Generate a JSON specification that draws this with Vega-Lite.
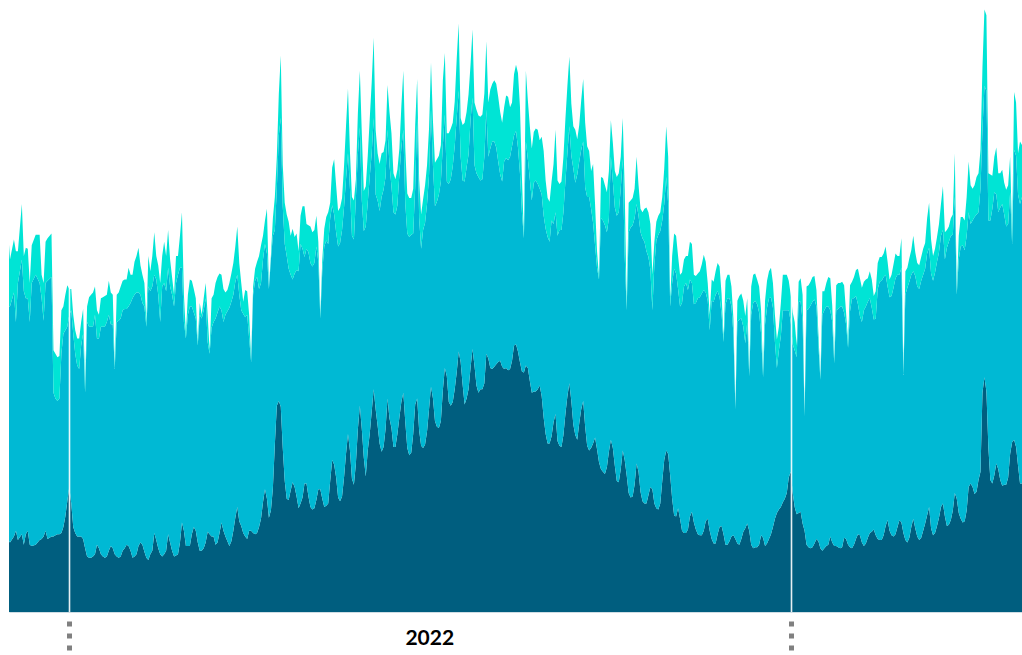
{
  "$schema": "https://vega.github.io/schema/vega-lite/v6.json",
  "width": 1013,
  "height": 612,
  "padding": {"left": 9, "top": 0, "right": 0, "bottom": 43},
  "autosize": {"type": "none"},
  "background": "#ffffff",
  "config": {"view": {"stroke": null}},
  "data": {"values": [
{"date":"2021-12-01","s1":61,"s2":198,"s3":65},
{"date":"2021-12-02","s1":59,"s2":200,"s3":40},
{"date":"2021-12-04","s1":64,"s2":207,"s3":45},
{"date":"2021-12-05","s1":69,"s2":177,"s3":60},
{"date":"2021-12-06","s1":61,"s2":218,"s3":27},
{"date":"2021-12-08","s1":66,"s2":233,"s3":47},
{"date":"2021-12-09","s1":57,"s2":215,"s3":30},
{"date":"2021-12-10","s1":66,"s2":200,"s3":43},
{"date":"2021-12-11","s1":69,"s2":197,"s3":42},
{"date":"2021-12-12","s1":57,"s2":189,"s3":33},
{"date":"2021-12-13","s1":56,"s2":223,"s3":32},
{"date":"2021-12-15","s1":57,"s2":229,"s3":34},
{"date":"2021-12-17","s1":61,"s2":218,"s3":41},
{"date":"2021-12-18","s1":62,"s2":204,"s3":20},
{"date":"2021-12-19","s1":64,"s2":183,"s3":32},
{"date":"2021-12-20","s1":69,"s2":210,"s3":35},
{"date":"2021-12-21","s1":62,"s2":219,"s3":36},
{"date":"2021-12-23","s1":64,"s2":220,"s3":37},
{"date":"2021-12-24","s1":64,"s2":122,"s3":36},
{"date":"2021-12-25","s1":65,"s2":116,"s3":38},
{"date":"2021-12-26","s1":66,"s2":113,"s3":37},
{"date":"2021-12-27","s1":66,"s2":115,"s3":36},
{"date":"2021-12-28","s1":67,"s2":152,"s3":37},
{"date":"2021-12-29","s1":72,"s2":164,"s3":23},
{"date":"2021-12-30","s1":81,"s2":158,"s3":30},
{"date":"2021-12-31","s1":94,"s2":148,"s3":35},
{"date":"2022-01-01","s1":106,"s2":146,"s3":22},
{"date":"2022-01-02","s1":92,"s2":164,"s3":18},
{"date":"2022-01-03","s1":72,"s2":164,"s3":16},
{"date":"2022-01-04","s1":67,"s2":152,"s3":20},
{"date":"2022-01-05","s1":64,"s2":145,"s3":23},
{"date":"2022-01-06","s1":64,"s2":142,"s3":26},
{"date":"2022-01-07","s1":64,"s2":162,"s3":20},
{"date":"2022-01-08","s1":62,"s2":174,"s3":21},
{"date":"2022-01-09","s1":54,"s2":132,"s3":6},
{"date":"2022-01-10","s1":47,"s2":199,"s3":13},
{"date":"2022-01-11","s1":46,"s2":196,"s3":25},
{"date":"2022-01-12","s1":46,"s2":196,"s3":27},
{"date":"2022-01-13","s1":47,"s2":195,"s3":29},
{"date":"2022-01-14","s1":49,"s2":203,"s3":24},
{"date":"2022-01-15","s1":57,"s2":175,"s3":24},
{"date":"2022-01-16","s1":54,"s2":178,"s3":20},
{"date":"2022-01-17","s1":49,"s2":193,"s3":24},
{"date":"2022-01-18","s1":47,"s2":195,"s3":25},
{"date":"2022-01-19","s1":46,"s2":196,"s3":26},
{"date":"2022-01-20","s1":47,"s2":199,"s3":23},
{"date":"2022-01-21","s1":52,"s2":200,"s3":29},
{"date":"2022-01-22","s1":56,"s2":188,"s3":27},
{"date":"2022-01-23","s1":54,"s2":190,"s3":25},
{"date":"2022-01-24","s1":49,"s2":157,"s3":3},
{"date":"2022-01-25","s1":47,"s2":199,"s3":23},
{"date":"2022-01-26","s1":46,"s2":201,"s3":24},
{"date":"2022-01-27","s1":47,"s2":202,"s3":27},
{"date":"2022-01-28","s1":52,"s2":204,"s3":25},
{"date":"2022-01-29","s1":54,"s2":203,"s3":25},
{"date":"2022-01-30","s1":57,"s2":200,"s3":25},
{"date":"2022-01-31","s1":56,"s2":203,"s3":33},
{"date":"2022-02-01","s1":52,"s2":210,"s3":24},
{"date":"2022-02-02","s1":46,"s2":220,"s3":20},
{"date":"2022-02-03","s1":47,"s2":222,"s3":28},
{"date":"2022-02-04","s1":49,"s2":222,"s3":31},
{"date":"2022-02-05","s1":56,"s2":215,"s3":38},
{"date":"2022-02-06","s1":59,"s2":210,"s3":25},
{"date":"2022-02-07","s1":57,"s2":205,"s3":24},
{"date":"2022-02-08","s1":51,"s2":208,"s3":20},
{"date":"2022-02-09","s1":46,"s2":196,"s3":4},
{"date":"2022-02-10","s1":44,"s2":232,"s3":26},
{"date":"2022-02-11","s1":49,"s2":223,"s3":17},
{"date":"2022-02-12","s1":52,"s2":224,"s3":26},
{"date":"2022-02-13","s1":67,"s2":219,"s3":36},
{"date":"2022-02-14","s1":61,"s2":221,"s3":20},
{"date":"2022-02-15","s1":54,"s2":215,"s3":25},
{"date":"2022-02-16","s1":49,"s2":197,"s3":33},
{"date":"2022-02-17","s1":47,"s2":229,"s3":26},
{"date":"2022-02-18","s1":49,"s2":230,"s3":35},
{"date":"2022-02-19","s1":52,"s2":220,"s3":30},
{"date":"2022-02-20","s1":66,"s2":226,"s3":32},
{"date":"2022-02-21","s1":59,"s2":217,"s3":23},
{"date":"2022-02-22","s1":52,"s2":217,"s3":15},
{"date":"2022-02-23","s1":47,"s2":212,"s3":10},
{"date":"2022-02-24","s1":48,"s2":231,"s3":23},
{"date":"2022-02-25","s1":49,"s2":237,"s3":16},
{"date":"2022-02-26","s1":59,"s2":233,"s3":27},
{"date":"2022-02-27","s1":76,"s2":216,"s3":47},
{"date":"2022-02-28","s1":69,"s2":177,"s3":23},
{"date":"2022-03-01","s1":56,"s2":176,"s3":4},
{"date":"2022-03-02","s1":56,"s2":196,"s3":17},
{"date":"2022-03-03","s1":56,"s2":203,"s3":23},
{"date":"2022-03-04","s1":66,"s2":193,"s3":22},
{"date":"2022-03-05","s1":72,"s2":182,"s3":20},
{"date":"2022-03-06","s1":69,"s2":180,"s3":17},
{"date":"2022-03-07","s1":59,"s2":167,"s3":3},
{"date":"2022-03-08","s1":52,"s2":200,"s3":10},
{"date":"2022-03-09","s1":52,"s2":197,"s3":3},
{"date":"2022-03-10","s1":54,"s2":202,"s3":10},
{"date":"2022-03-11","s1":59,"s2":207,"s3":13},
{"date":"2022-03-12","s1":68,"s2":161,"s3":23},
{"date":"2022-03-13","s1":66,"s2":153,"s3":3},
{"date":"2022-03-14","s1":64,"s2":177,"s3":25},
{"date":"2022-03-15","s1":64,"s2":182,"s3":23},
{"date":"2022-03-16","s1":57,"s2":192,"s3":30},
{"date":"2022-03-17","s1":59,"s2":195,"s3":30},
{"date":"2022-03-18","s1":67,"s2":192,"s3":28},
{"date":"2022-03-19","s1":76,"s2":180,"s3":30},
{"date":"2022-03-20","s1":69,"s2":177,"s3":28},
{"date":"2022-03-21","s1":64,"s2":188,"s3":19},
{"date":"2022-03-22","s1":60,"s2":195,"s3":18},
{"date":"2022-03-23","s1":56,"s2":202,"s3":21},
{"date":"2022-03-24","s1":60,"s2":203,"s3":24},
{"date":"2022-03-25","s1":69,"s2":200,"s3":27},
{"date":"2022-03-26","s1":80,"s2":200,"s3":30},
{"date":"2022-03-27","s1":89,"s2":197,"s3":41},
{"date":"2022-03-28","s1":77,"s2":192,"s3":27},
{"date":"2022-03-29","s1":73,"s2":183,"s3":23},
{"date":"2022-03-30","s1":67,"s2":186,"s3":10},
{"date":"2022-03-31","s1":64,"s2":186,"s3":23},
{"date":"2022-04-01","s1":62,"s2":190,"s3":20},
{"date":"2022-04-02","s1":69,"s2":163,"s3":20},
{"date":"2022-04-03","s1":69,"s2":143,"s3":2},
{"date":"2022-04-04","s1":67,"s2":202,"s3":7},
{"date":"2022-04-05","s1":66,"s2":215,"s3":10},
{"date":"2022-04-06","s1":67,"s2":217,"s3":13},
{"date":"2022-04-07","s1":72,"s2":202,"s3":28},
{"date":"2022-04-08","s1":79,"s2":200,"s3":32},
{"date":"2022-04-09","s1":93,"s2":206,"s3":20},
{"date":"2022-04-10","s1":104,"s2":208,"s3":20},
{"date":"2022-04-11","s1":96,"s2":208,"s3":38},
{"date":"2022-04-12","s1":80,"s2":194,"s3":2},
{"date":"2022-04-13","s1":86,"s2":213,"s3":3},
{"date":"2022-04-14","s1":105,"s2":214,"s3":15},
{"date":"2022-04-15","s1":142,"s2":182,"s3":28},
{"date":"2022-04-16","s1":175,"s2":184,"s3":27},
{"date":"2022-04-17","s1":179,"s2":225,"s3":35},
{"date":"2022-04-18","s1":174,"s2":245,"s3":53},
{"date":"2022-04-19","s1":139,"s2":205,"s3":35},
{"date":"2022-04-20","s1":111,"s2":201,"s3":35},
{"date":"2022-04-21","s1":96,"s2":206,"s3":35},
{"date":"2022-04-22","s1":95,"s2":196,"s3":40},
{"date":"2022-04-23","s1":103,"s2":183,"s3":33},
{"date":"2022-04-24","s1":110,"s2":172,"s3":43},
{"date":"2022-04-25","s1":106,"s2":181,"s3":31},
{"date":"2022-04-26","s1":98,"s2":192,"s3":31},
{"date":"2022-04-27","s1":88,"s2":201,"s3":17},
{"date":"2022-04-28","s1":92,"s2":220,"s3":24},
{"date":"2022-04-29","s1":97,"s2":211,"s3":36},
{"date":"2022-04-30","s1":109,"s2":192,"s3":43},
{"date":"2022-05-01","s1":109,"s2":199,"s3":21},
{"date":"2022-05-02","s1":98,"s2":207,"s3":23},
{"date":"2022-05-03","s1":89,"s2":207,"s3":31},
{"date":"2022-05-04","s1":87,"s2":206,"s3":29},
{"date":"2022-05-05","s1":88,"s2":208,"s3":28},
{"date":"2022-05-06","s1":95,"s2":215,"s3":26},
{"date":"2022-05-07","s1":104,"s2":193,"s3":17},
{"date":"2022-05-08","s1":104,"s2":145,"s3":3},
{"date":"2022-05-09","s1":96,"s2":193,"s3":10},
{"date":"2022-05-10","s1":89,"s2":221,"s3":15},
{"date":"2022-05-11","s1":90,"s2":225,"s3":20},
{"date":"2022-05-12","s1":92,"s2":220,"s3":27},
{"date":"2022-05-13","s1":111,"s2":223,"s3":13},
{"date":"2022-05-14","s1":129,"s2":216,"s3":32},
{"date":"2022-05-15","s1":125,"s2":212,"s3":47},
{"date":"2022-05-16","s1":114,"s2":208,"s3":40},
{"date":"2022-05-17","s1":97,"s2":213,"s3":30},
{"date":"2022-05-18","s1":94,"s2":219,"s3":30},
{"date":"2022-05-19","s1":98,"s2":226,"s3":27},
{"date":"2022-05-20","s1":114,"s2":229,"s3":35},
{"date":"2022-05-21","s1":134,"s2":233,"s3":45},
{"date":"2022-05-22","s1":151,"s2":238,"s3":55},
{"date":"2022-05-23","s1":137,"s2":222,"s3":31},
{"date":"2022-05-24","s1":113,"s2":206,"s3":33},
{"date":"2022-05-25","s1":108,"s2":208,"s3":33},
{"date":"2022-05-26","s1":126,"s2":225,"s3":16},
{"date":"2022-05-27","s1":155,"s2":233,"s3":35},
{"date":"2022-05-28","s1":175,"s2":236,"s3":48},
{"date":"2022-05-29","s1":155,"s2":194,"s3":57},
{"date":"2022-05-30","s1":131,"s2":192,"s3":34},
{"date":"2022-05-31","s1":115,"s2":212,"s3":34},
{"date":"2022-06-01","s1":137,"s2":210,"s3":40},
{"date":"2022-06-02","s1":151,"s2":218,"s3":49},
{"date":"2022-06-03","s1":170,"s2":219,"s3":60},
{"date":"2022-06-04","s1":189,"s2":230,"s3":68},
{"date":"2022-06-05","s1":172,"s2":182,"s3":55},
{"date":"2022-06-06","s1":158,"s2":191,"s3":40},
{"date":"2022-06-07","s1":143,"s2":197,"s3":40},
{"date":"2022-06-08","s1":136,"s2":216,"s3":37},
{"date":"2022-06-09","s1":140,"s2":218,"s3":32},
{"date":"2022-06-10","s1":155,"s2":214,"s3":31},
{"date":"2022-06-11","s1":181,"s2":228,"s3":38},
{"date":"2022-06-12","s1":164,"s2":215,"s3":45},
{"date":"2022-06-13","s1":156,"s2":205,"s3":45},
{"date":"2022-06-14","s1":140,"s2":199,"s3":33},
{"date":"2022-06-15","s1":140,"s2":197,"s3":30},
{"date":"2022-06-16","s1":151,"s2":194,"s3":30},
{"date":"2022-06-17","s1":165,"s2":206,"s3":22},
{"date":"2022-06-18","s1":178,"s2":216,"s3":35},
{"date":"2022-06-19","s1":186,"s2":223,"s3":50},
{"date":"2022-06-20","s1":161,"s2":185,"s3":47},
{"date":"2022-06-21","s1":139,"s2":182,"s3":34},
{"date":"2022-06-22","s1":133,"s2":185,"s3":33},
{"date":"2022-06-23","s1":135,"s2":185,"s3":31},
{"date":"2022-06-24","s1":151,"s2":170,"s3":38},
{"date":"2022-06-25","s1":176,"s2":184,"s3":53},
{"date":"2022-06-26","s1":181,"s2":238,"s3":33},
{"date":"2022-06-27","s1":154,"s2":180,"s3":33},
{"date":"2022-06-28","s1":141,"s2":167,"s3":29},
{"date":"2022-06-29","s1":139,"s2":185,"s3":26},
{"date":"2022-06-30","s1":142,"s2":188,"s3":32},
{"date":"2022-07-01","s1":153,"s2":193,"s3":33},
{"date":"2022-07-02","s1":172,"s2":198,"s3":40},
{"date":"2022-07-03","s1":191,"s2":235,"s3":40},
{"date":"2022-07-04","s1":181,"s2":197,"s3":38},
{"date":"2022-07-05","s1":162,"s2":182,"s3":37},
{"date":"2022-07-06","s1":157,"s2":191,"s3":36},
{"date":"2022-07-07","s1":156,"s2":198,"s3":33},
{"date":"2022-07-08","s1":162,"s2":203,"s3":31},
{"date":"2022-07-09","s1":188,"s2":208,"s3":55},
{"date":"2022-07-10","s1":207,"s2":215,"s3":52},
{"date":"2022-07-11","s1":200,"s2":165,"s3":41},
{"date":"2022-07-12","s1":178,"s2":185,"s3":43},
{"date":"2022-07-13","s1":175,"s2":192,"s3":43},
{"date":"2022-07-14","s1":178,"s2":200,"s3":37},
{"date":"2022-07-15","s1":189,"s2":206,"s3":38},
{"date":"2022-07-16","s1":203,"s2":216,"s3":50},
{"date":"2022-07-17","s1":221,"s2":221,"s3":57},
{"date":"2022-07-18","s1":212,"s2":174,"s3":33},
{"date":"2022-07-19","s1":193,"s2":173,"s3":47},
{"date":"2022-07-20","s1":176,"s2":189,"s3":50},
{"date":"2022-07-21","s1":181,"s2":196,"s3":47},
{"date":"2022-07-22","s1":189,"s2":199,"s3":51},
{"date":"2022-07-23","s1":207,"s2":210,"s3":47},
{"date":"2022-07-24","s1":223,"s2":213,"s3":58},
{"date":"2022-07-25","s1":209,"s2":170,"s3":53},
{"date":"2022-07-26","s1":192,"s2":180,"s3":54},
{"date":"2022-07-27","s1":186,"s2":183,"s3":52},
{"date":"2022-07-28","s1":189,"s2":177,"s3":54},
{"date":"2022-07-29","s1":189,"s2":178,"s3":55},
{"date":"2022-07-30","s1":194,"s2":192,"s3":54},
{"date":"2022-07-31","s1":219,"s2":207,"s3":58},
{"date":"2022-08-01","s1":215,"s2":171,"s3":46},
{"date":"2022-08-02","s1":207,"s2":186,"s3":50},
{"date":"2022-08-03","s1":206,"s2":193,"s3":49},
{"date":"2022-08-04","s1":208,"s2":191,"s3":52},
{"date":"2022-08-05","s1":210,"s2":184,"s3":54},
{"date":"2022-08-06","s1":212,"s2":170,"s3":55},
{"date":"2022-08-07","s1":213,"s2":158,"s3":53},
{"date":"2022-08-08","s1":208,"s2":157,"s3":50},
{"date":"2022-08-09","s1":206,"s2":176,"s3":46},
{"date":"2022-08-10","s1":207,"s2":178,"s3":53},
{"date":"2022-08-11","s1":205,"s2":178,"s3":54},
{"date":"2022-08-12","s1":206,"s2":180,"s3":42},
{"date":"2022-08-13","s1":213,"s2":182,"s3":37},
{"date":"2022-08-14","s1":226,"s2":178,"s3":52},
{"date":"2022-08-15","s1":227,"s2":181,"s3":56},
{"date":"2022-08-16","s1":221,"s2":173,"s3":63},
{"date":"2022-08-17","s1":212,"s2":160,"s3":57},
{"date":"2022-08-18","s1":204,"s2":135,"s3":30},
{"date":"2022-08-19","s1":203,"s2":114,"s3":2},
{"date":"2022-08-20","s1":209,"s2":190,"s3":60},
{"date":"2022-08-21","s1":207,"s2":177,"s3":50},
{"date":"2022-08-22","s1":196,"s2":171,"s3":45},
{"date":"2022-08-23","s1":186,"s2":163,"s3":44},
{"date":"2022-08-24","s1":187,"s2":177,"s3":43},
{"date":"2022-08-25","s1":187,"s2":179,"s3":44},
{"date":"2022-08-26","s1":189,"s2":174,"s3":46},
{"date":"2022-08-27","s1":192,"s2":167,"s3":41},
{"date":"2022-08-28","s1":183,"s2":171,"s3":49},
{"date":"2022-08-29","s1":165,"s2":171,"s3":55},
{"date":"2022-08-30","s1":151,"s2":174,"s3":41},
{"date":"2022-08-31","s1":143,"s2":175,"s3":33},
{"date":"2022-09-01","s1":143,"s2":171,"s3":34},
{"date":"2022-09-02","s1":149,"s2":183,"s3":33},
{"date":"2022-09-03","s1":161,"s2":168,"s3":51},
{"date":"2022-09-04","s1":168,"s2":171,"s3":70},
{"date":"2022-09-05","s1":145,"s2":174,"s3":47},
{"date":"2022-09-06","s1":141,"s2":183,"s3":39},
{"date":"2022-09-07","s1":140,"s2":184,"s3":41},
{"date":"2022-09-08","s1":150,"s2":189,"s3":47},
{"date":"2022-09-09","s1":168,"s2":197,"s3":53},
{"date":"2022-09-10","s1":183,"s2":206,"s3":57},
{"date":"2022-09-11","s1":194,"s2":218,"s3":59},
{"date":"2022-09-12","s1":179,"s2":208,"s3":44},
{"date":"2022-09-13","s1":159,"s2":217,"s3":36},
{"date":"2022-09-14","s1":150,"s2":214,"s3":45},
{"date":"2022-09-15","s1":146,"s2":225,"s3":30},
{"date":"2022-09-16","s1":160,"s2":222,"s3":31},
{"date":"2022-09-17","s1":172,"s2":220,"s3":42},
{"date":"2022-09-18","s1":179,"s2":220,"s3":53},
{"date":"2022-09-19","s1":157,"s2":203,"s3":55},
{"date":"2022-09-20","s1":141,"s2":211,"s3":43},
{"date":"2022-09-21","s1":137,"s2":215,"s3":39},
{"date":"2022-09-22","s1":139,"s2":203,"s3":32},
{"date":"2022-09-23","s1":143,"s2":187,"s3":50},
{"date":"2022-09-24","s1":148,"s2":163,"s3":35},
{"date":"2022-09-25","s1":138,"s2":154,"s3":14},
{"date":"2022-09-26","s1":127,"s2":155,"s3":2},
{"date":"2022-09-27","s1":121,"s2":213,"s3":35},
{"date":"2022-09-28","s1":119,"s2":213,"s3":36},
{"date":"2022-09-29","s1":117,"s2":211,"s3":34},
{"date":"2022-09-30","s1":123,"s2":199,"s3":34},
{"date":"2022-10-01","s1":136,"s2":198,"s3":40},
{"date":"2022-10-02","s1":146,"s2":240,"s3":31},
{"date":"2022-10-03","s1":139,"s2":226,"s3":33},
{"date":"2022-10-04","s1":124,"s2":219,"s3":31},
{"date":"2022-10-05","s1":111,"s2":225,"s3":33},
{"date":"2022-10-06","s1":110,"s2":229,"s3":33},
{"date":"2022-10-07","s1":121,"s2":238,"s3":27},
{"date":"2022-10-08","s1":137,"s2":247,"s3":35},
{"date":"2022-10-09","s1":129,"s2":173,"s3":57},
{"date":"2022-10-10","s1":116,"s2":140,"s3":3},
{"date":"2022-10-11","s1":101,"s2":221,"s3":25},
{"date":"2022-10-12","s1":97,"s2":229,"s3":23},
{"date":"2022-10-13","s1":98,"s2":230,"s3":23},
{"date":"2022-10-14","s1":108,"s2":226,"s3":25},
{"date":"2022-10-15","s1":126,"s2":220,"s3":40},
{"date":"2022-10-16","s1":119,"s2":217,"s3":26},
{"date":"2022-10-17","s1":102,"s2":220,"s3":20},
{"date":"2022-10-18","s1":94,"s2":223,"s3":22},
{"date":"2022-10-19","s1":92,"s2":222,"s3":28},
{"date":"2022-10-20","s1":92,"s2":214,"s3":37},
{"date":"2022-10-21","s1":99,"s2":202,"s3":38},
{"date":"2022-10-22","s1":106,"s2":184,"s3":39},
{"date":"2022-10-23","s1":104,"s2":152,"s3":30},
{"date":"2022-10-24","s1":92,"s2":202,"s3":20},
{"date":"2022-10-25","s1":88,"s2":227,"s3":16},
{"date":"2022-10-26","s1":87,"s2":233,"s3":16},
{"date":"2022-10-27","s1":92,"s2":231,"s3":16},
{"date":"2022-10-28","s1":111,"s2":221,"s3":20},
{"date":"2022-10-29","s1":129,"s2":217,"s3":30},
{"date":"2022-10-30","s1":137,"s2":232,"s3":43},
{"date":"2022-10-31","s1":134,"s2":212,"s3":40},
{"date":"2022-11-01","s1":116,"s2":143,"s3":5},
{"date":"2022-11-02","s1":96,"s2":183,"s3":23},
{"date":"2022-11-03","s1":82,"s2":209,"s3":30},
{"date":"2022-11-04","s1":81,"s2":206,"s3":32},
{"date":"2022-11-05","s1":88,"s2":186,"s3":28},
{"date":"2022-11-06","s1":79,"s2":180,"s3":27},
{"date":"2022-11-07","s1":69,"s2":193,"s3":26},
{"date":"2022-11-08","s1":67,"s2":209,"s3":23},
{"date":"2022-11-09","s1":67,"s2":212,"s3":23},
{"date":"2022-11-10","s1":70,"s2":203,"s3":29},
{"date":"2022-11-11","s1":81,"s2":201,"s3":32},
{"date":"2022-11-12","s1":85,"s2":194,"s3":33},
{"date":"2022-11-13","s1":76,"s2":185,"s3":25},
{"date":"2022-11-14","s1":70,"s2":192,"s3":23},
{"date":"2022-11-15","s1":66,"s2":200,"s3":21},
{"date":"2022-11-16","s1":65,"s2":202,"s3":22},
{"date":"2022-11-17","s1":65,"s2":205,"s3":25},
{"date":"2022-11-18","s1":69,"s2":204,"s3":30},
{"date":"2022-11-19","s1":77,"s2":194,"s3":26},
{"date":"2022-11-20","s1":79,"s2":185,"s3":15},
{"date":"2022-11-21","s1":69,"s2":170,"s3":13},
{"date":"2022-11-22","s1":62,"s2":202,"s3":18},
{"date":"2022-11-23","s1":58,"s2":205,"s3":17},
{"date":"2022-11-24","s1":58,"s2":211,"s3":20},
{"date":"2022-11-25","s1":66,"s2":206,"s3":24},
{"date":"2022-11-26","s1":72,"s2":195,"s3":26},
{"date":"2022-11-27","s1":73,"s2":180,"s3":17},
{"date":"2022-11-28","s1":66,"s2":163,"s3":3},
{"date":"2022-11-29","s1":57,"s2":204,"s3":20},
{"date":"2022-11-30","s1":57,"s2":209,"s3":20},
{"date":"2022-12-01","s1":60,"s2":206,"s3":20},
{"date":"2022-12-02","s1":64,"s2":195,"s3":17},
{"date":"2022-12-03","s1":65,"s2":171,"s3":13},
{"date":"2022-12-04","s1":62,"s2":110,"s3":2},
{"date":"2022-12-05","s1":58,"s2":188,"s3":18},
{"date":"2022-12-06","s1":57,"s2":191,"s3":20},
{"date":"2022-12-07","s1":62,"s2":187,"s3":21},
{"date":"2022-12-08","s1":68,"s2":174,"s3":22},
{"date":"2022-12-09","s1":71,"s2":157,"s3":23},
{"date":"2022-12-10","s1":75,"s2":171,"s3":20},
{"date":"2022-12-11","s1":69,"s2":131,"s3":2},
{"date":"2022-12-12","s1":57,"s2":195,"s3":24},
{"date":"2022-12-13","s1":54,"s2":208,"s3":24},
{"date":"2022-12-14","s1":55,"s2":209,"s3":23},
{"date":"2022-12-15","s1":55,"s2":206,"s3":21},
{"date":"2022-12-16","s1":57,"s2":197,"s3":22},
{"date":"2022-12-17","s1":65,"s2":171,"s3":20},
{"date":"2022-12-18","s1":63,"s2":136,"s3":3},
{"date":"2022-12-19","s1":56,"s2":188,"s3":20},
{"date":"2022-12-20","s1":58,"s2":200,"s3":23},
{"date":"2022-12-21","s1":62,"s2":204,"s3":23},
{"date":"2022-12-22","s1":66,"s2":201,"s3":25},
{"date":"2022-12-23","s1":72,"s2":186,"s3":21},
{"date":"2022-12-24","s1":79,"s2":150,"s3":23},
{"date":"2022-12-25","s1":84,"s2":123,"s3":24},
{"date":"2022-12-26","s1":87,"s2":135,"s3":20},
{"date":"2022-12-27","s1":89,"s2":145,"s3":28},
{"date":"2022-12-28","s1":93,"s2":163,"s3":30},
{"date":"2022-12-29","s1":96,"s2":160,"s3":30},
{"date":"2022-12-30","s1":101,"s2":155,"s3":30},
{"date":"2022-12-31","s1":114,"s2":142,"s3":25},
{"date":"2023-01-01","s1":119,"s2":127,"s3":23},
{"date":"2023-01-02","s1":101,"s2":126,"s3":27},
{"date":"2023-01-03","s1":89,"s2":133,"s3":24},
{"date":"2023-01-04","s1":83,"s2":133,"s3":10},
{"date":"2023-01-05","s1":84,"s2":179,"s3":17},
{"date":"2023-01-06","s1":85,"s2":178,"s3":20},
{"date":"2023-01-07","s1":75,"s2":172,"s3":22},
{"date":"2023-01-08","s1":69,"s2":97,"s3":3},
{"date":"2023-01-09","s1":57,"s2":199,"s3":20},
{"date":"2023-01-10","s1":55,"s2":202,"s3":20},
{"date":"2023-01-11","s1":54,"s2":206,"s3":20},
{"date":"2023-01-12","s1":55,"s2":208,"s3":21},
{"date":"2023-01-13","s1":58,"s2":207,"s3":20},
{"date":"2023-01-14","s1":62,"s2":197,"s3":14},
{"date":"2023-01-15","s1":60,"s2":166,"s3":10},
{"date":"2023-01-16","s1":54,"s2":143,"s3":2},
{"date":"2023-01-17","s1":52,"s2":200,"s3":20},
{"date":"2023-01-18","s1":54,"s2":202,"s3":16},
{"date":"2023-01-19","s1":56,"s2":203,"s3":20},
{"date":"2023-01-20","s1":57,"s2":202,"s3":25},
{"date":"2023-01-21","s1":64,"s2":192,"s3":27},
{"date":"2023-01-22","s1":59,"s2":187,"s3":14},
{"date":"2023-01-23","s1":56,"s2":155,"s3":3},
{"date":"2023-01-24","s1":56,"s2":200,"s3":21},
{"date":"2023-01-25","s1":55,"s2":202,"s3":22},
{"date":"2023-01-26","s1":54,"s2":205,"s3":20},
{"date":"2023-01-27","s1":55,"s2":204,"s3":21},
{"date":"2023-01-28","s1":63,"s2":191,"s3":23},
{"date":"2023-01-29","s1":62,"s2":182,"s3":10},
{"date":"2023-01-30","s1":57,"s2":167,"s3":5},
{"date":"2023-01-31","s1":55,"s2":200,"s3":22},
{"date":"2023-02-01","s1":54,"s2":212,"s3":14},
{"date":"2023-02-02","s1":57,"s2":209,"s3":18},
{"date":"2023-02-03","s1":62,"s2":206,"s3":22},
{"date":"2023-02-04","s1":66,"s2":195,"s3":30},
{"date":"2023-02-05","s1":65,"s2":186,"s3":32},
{"date":"2023-02-06","s1":59,"s2":187,"s3":29},
{"date":"2023-02-07","s1":56,"s2":200,"s3":24},
{"date":"2023-02-08","s1":58,"s2":201,"s3":23},
{"date":"2023-02-09","s1":63,"s2":200,"s3":20},
{"date":"2023-02-10","s1":67,"s2":199,"s3":23},
{"date":"2023-02-11","s1":68,"s2":190,"s3":24},
{"date":"2023-02-12","s1":70,"s2":178,"s3":20},
{"date":"2023-02-13","s1":65,"s2":184,"s3":23},
{"date":"2023-02-14","s1":62,"s2":212,"s3":22},
{"date":"2023-02-15","s1":61,"s2":219,"s3":21},
{"date":"2023-02-16","s1":61,"s2":220,"s3":20},
{"date":"2023-02-17","s1":65,"s2":219,"s3":20},
{"date":"2023-02-18","s1":73,"s2":213,"s3":24},
{"date":"2023-02-19","s1":78,"s2":198,"s3":21},
{"date":"2023-02-20","s1":69,"s2":198,"s3":15},
{"date":"2023-02-21","s1":65,"s2":203,"s3":18},
{"date":"2023-02-22","s1":64,"s2":211,"s3":20},
{"date":"2023-02-23","s1":66,"s2":217,"s3":21},
{"date":"2023-02-24","s1":72,"s2":214,"s3":16},
{"date":"2023-02-25","s1":78,"s2":208,"s3":16},
{"date":"2023-02-26","s1":76,"s2":216,"s3":25},
{"date":"2023-02-27","s1":67,"s2":134,"s3":3},
{"date":"2023-02-28","s1":61,"s2":208,"s3":20},
{"date":"2023-03-01","s1":59,"s2":216,"s3":17},
{"date":"2023-03-02","s1":63,"s2":217,"s3":20},
{"date":"2023-03-03","s1":72,"s2":214,"s3":21},
{"date":"2023-03-04","s1":79,"s2":210,"s3":30},
{"date":"2023-03-05","s1":71,"s2":214,"s3":20},
{"date":"2023-03-06","s1":64,"s2":212,"s3":20},
{"date":"2023-03-07","s1":61,"s2":213,"s3":20},
{"date":"2023-03-08","s1":63,"s2":218,"s3":20},
{"date":"2023-03-09","s1":69,"s2":217,"s3":22},
{"date":"2023-03-10","s1":75,"s2":216,"s3":22},
{"date":"2023-03-11","s1":82,"s2":222,"s3":30},
{"date":"2023-03-12","s1":89,"s2":220,"s3":38},
{"date":"2023-03-13","s1":71,"s2":216,"s3":29},
{"date":"2023-03-14","s1":65,"s2":216,"s3":21},
{"date":"2023-03-15","s1":67,"s2":221,"s3":20},
{"date":"2023-03-16","s1":73,"s2":224,"s3":21},
{"date":"2023-03-17","s1":80,"s2":225,"s3":24},
{"date":"2023-03-18","s1":89,"s2":230,"s3":27},
{"date":"2023-03-19","s1":92,"s2":232,"s3":37},
{"date":"2023-03-20","s1":81,"s2":218,"s3":23},
{"date":"2023-03-21","s1":73,"s2":236,"s3":15},
{"date":"2023-03-22","s1":74,"s2":240,"s3":13},
{"date":"2023-03-23","s1":78,"s2":241,"s3":15},
{"date":"2023-03-24","s1":86,"s2":234,"s3":17},
{"date":"2023-03-25","s1":101,"s2":251,"s3":37},
{"date":"2023-03-26","s1":96,"s2":173,"s3":3},
{"date":"2023-03-27","s1":84,"s2":215,"s3":20},
{"date":"2023-03-28","s1":79,"s2":231,"s3":25},
{"date":"2023-03-29","s1":76,"s2":235,"s3":24},
{"date":"2023-03-30","s1":77,"s2":230,"s3":25},
{"date":"2023-03-31","s1":86,"s2":233,"s3":33},
{"date":"2023-04-01","s1":106,"s2":233,"s3":43},
{"date":"2023-04-02","s1":109,"s2":220,"s3":33},
{"date":"2023-04-03","s1":106,"s2":226,"s3":27},
{"date":"2023-04-04","s1":100,"s2":235,"s3":27},
{"date":"2023-04-05","s1":102,"s2":235,"s3":32},
{"date":"2023-04-06","s1":112,"s2":227,"s3":33},
{"date":"2023-04-07","s1":119,"s2":240,"s3":33},
{"date":"2023-04-08","s1":186,"s2":223,"s3":53},
{"date":"2023-04-09","s1":199,"s2":247,"s3":65},
{"date":"2023-04-10","s1":187,"s2":255,"s3":64},
{"date":"2023-04-11","s1":139,"s2":193,"s3":40},
{"date":"2023-04-12","s1":112,"s2":220,"s3":39},
{"date":"2023-04-13","s1":109,"s2":233,"s3":28},
{"date":"2023-04-14","s1":116,"s2":240,"s3":30},
{"date":"2023-04-15","s1":126,"s2":228,"s3":40},
{"date":"2023-04-16","s1":121,"s2":218,"s3":33},
{"date":"2023-04-17","s1":112,"s2":231,"s3":29},
{"date":"2023-04-18","s1":107,"s2":239,"s3":29},
{"date":"2023-04-19","s1":108,"s2":229,"s3":27},
{"date":"2023-04-20","s1":108,"s2":219,"s3":31},
{"date":"2023-04-21","s1":114,"s2":215,"s3":33},
{"date":"2023-04-22","s1":134,"s2":222,"s3":30},
{"date":"2023-04-23","s1":144,"s2":168,"s3":7},
{"date":"2023-04-24","s1":146,"s2":246,"s3":49},
{"date":"2023-04-25","s1":140,"s2":247,"s3":45},
{"date":"2023-04-26","s1":124,"s2":230,"s3":35},
{"date":"2023-04-27","s1":109,"s2":237,"s3":53},
{"date":"2023-04-28","s1":109,"s2":243,"s3":44}
  ]},
  "transform": [
    {"fold": ["s1", "s2", "s3"], "as": ["series", "value"]}
  ],
  "mark": {"type": "area", "clip": true, "interpolate": "linear"},
  "encoding": {
    "x": {
      "field": "date",
      "type": "temporal",
      "scale": {
        "type": "utc",
        "domain": [
          {"year": 2021, "month": 12, "date": 1, "hours": 12, "utc": true},
          {"year": 2023, "month": 4, "date": 28, "utc": true}
        ]
      },
      "axis": {
        "title": null,
        "values": [
          {"year": 2022, "month": 1, "date": 1, "utc": true},
          {"year": 2023, "month": 1, "date": 1, "utc": true}
        ],
        "labelExpr": "utcyear(datum.value) == 2022 ? '2022' : ''",
        "labelOffset": 360,
        "labelFont": "Lato",
        "labelFontSize": 21,
        "labelFontWeight": "bold",
        "labelColor": "#000000",
        "labelBaseline": "alphabetic",
        "labelPadding": -6,
        "labelOverlap": false,
        "labelFlush": false,
        "labelBound": false,
        "ticks": true,
        "tickSize": 38,
        "tickWidth": 5,
        "tickColor": "#808080",
        "tickDash": [0, 9, 5, 7, 5, 7, 5, 100],
        "tickCap": "butt",
        "grid": true,
        "gridColor": "#ffffff",
        "gridWidth": 1.6,
        "gridOpacity": 0.9,
        "domain": true,
        "domainColor": "#cfdde4",
        "domainWidth": 1,
        "zindex": 1
      }
    },
    "y": {
      "field": "value",
      "type": "quantitative",
      "stack": "zero",
      "scale": {"domain": [0, 519], "nice": false, "zero": true},
      "axis": null
    },
    "color": {
      "field": "series",
      "type": "nominal",
      "scale": {"domain": ["s1", "s2", "s3"], "range": ["#005E7F", "#00B9D4", "#00E4D5"]},
      "legend": null
    },
    "order": {"field": "series", "sort": "ascending"}
  }
}
